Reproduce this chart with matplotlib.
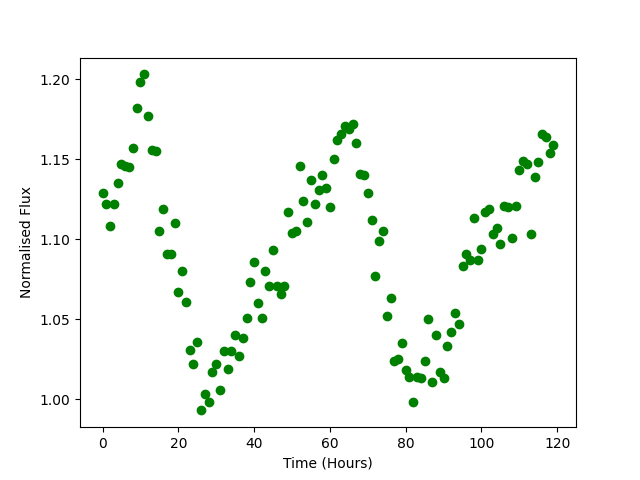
import matplotlib
matplotlib.use('Agg')
import matplotlib.pyplot as plt

time_hours = [0, 1, 2, 3, 4, 5, 6, 7, 8, 9,
              10, 11, 12, 13, 14, 15, 16, 17, 18, 19,
              20, 21, 22, 23, 24, 25, 26, 27, 28, 29,
              30, 31, 32, 33, 34, 35, 36, 37, 38, 39,
              40, 41, 42, 43, 44, 45, 46, 47, 48, 49,
              50, 51, 52, 53, 54, 55, 56, 57, 58, 59,
              60, 61, 62, 63, 64, 65, 66, 67, 68, 69,
              70, 71, 72, 73, 74, 75, 76, 77, 78, 79,
              80, 81, 82, 83, 84, 85, 86, 87, 88, 89,
              90, 91, 92, 93, 94, 95, 96, 97, 98, 99,
              100, 101, 102, 103, 104, 105, 106, 107, 108, 109,
              110, 111, 112, 113, 114, 115, 116, 117, 118, 119]

flux = [1.129, 1.122, 1.108, 1.122, 1.135, 1.147, 1.146, 1.145, 1.157, 1.182,
        1.198, 1.203, 1.177, 1.156, 1.155, 1.105, 1.119, 1.091, 1.091, 1.110,
        1.067, 1.080, 1.061, 1.031, 1.022, 1.036, 0.993, 1.003, 0.998, 1.017,
        1.022, 1.006, 1.030, 1.019, 1.030, 1.040, 1.027, 1.038, 1.051, 1.073,
        1.086, 1.060, 1.051, 1.080, 1.071, 1.093, 1.071, 1.066, 1.071, 1.117,
        1.104, 1.105, 1.146, 1.124, 1.111, 1.137, 1.122, 1.131, 1.140, 1.132,
        1.120, 1.150, 1.162, 1.166, 1.171, 1.169, 1.172, 1.160, 1.141, 1.140,
        1.129, 1.112, 1.077, 1.099, 1.105, 1.052, 1.063, 1.024, 1.025, 1.035,
        1.018, 1.014, 0.998, 1.014, 1.013, 1.024, 1.050, 1.011, 1.040, 1.017,
        1.013, 1.033, 1.042, 1.054, 1.047, 1.083, 1.091, 1.087, 1.113, 1.087,
        1.094, 1.117, 1.119, 1.103, 1.107, 1.097, 1.121, 1.120, 1.101, 1.121,
        1.143, 1.149, 1.147, 1.103, 1.139, 1.148, 1.166, 1.164, 1.154, 1.159]

plt.figure(figsize=(6.4, 4.8), dpi=100)
plt.plot(time_hours, flux, 'o', color='green')

plt.xlabel('Time (Hours)')
plt.ylabel('Normalised Flux')

plt.savefig('out.png')
